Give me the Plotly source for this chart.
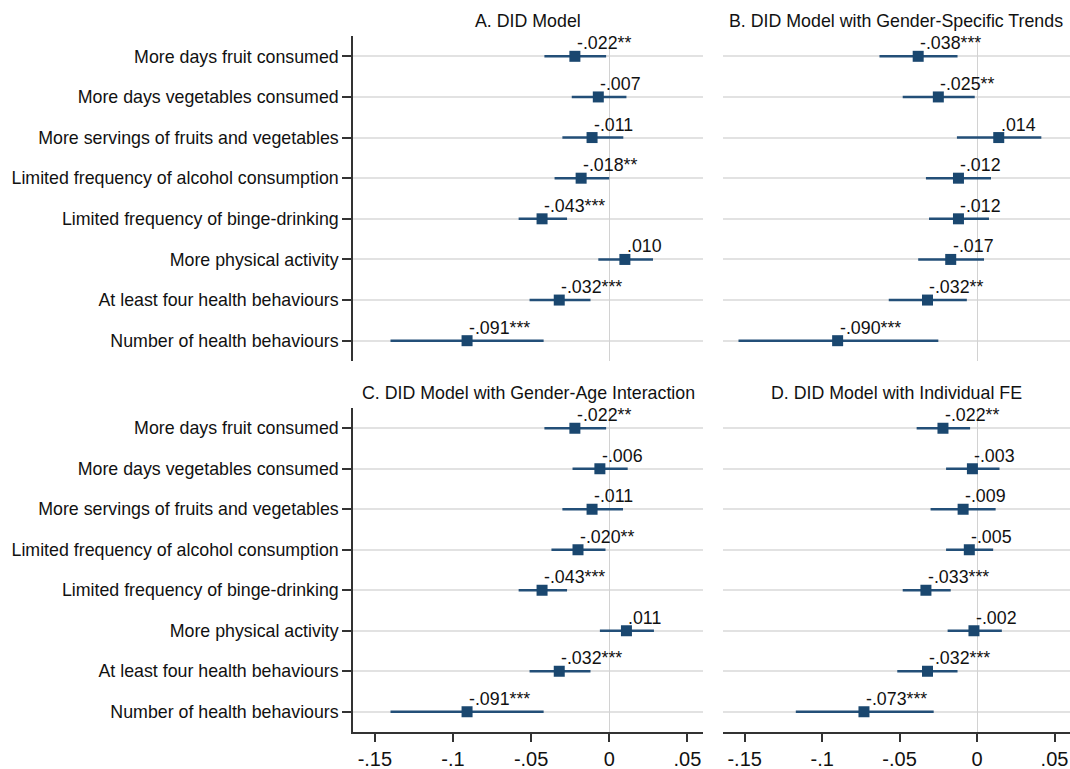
import plotly.graph_objects as go

categories = [
    "More days fruit consumed",
    "More days vegetables consumed",
    "More servings of fruits and vegetables",
    "Limited frequency of alcohol consumption",
    "Limited frequency of binge-drinking",
    "More physical activity",
    "At least four health behaviours",
    "Number of health behaviours",
]

panel_titles = [
    "A. DID Model",
    "B. DID Model with Gender-Specific Trends",
    "C. DID Model with Gender-Age Interaction",
    "D. DID Model with Individual FE",
]

est_A = [-0.022, -0.007, -0.011, -0.018, -0.043, 0.010, -0.032, -0.091]
lo_A = [-0.0415, -0.024, -0.030, -0.035, -0.058, -0.007, -0.051, -0.140]
hi_A = [-0.002, 0.011, 0.009, 0.000, -0.027, 0.028, -0.012, -0.042]
stars_A = ["**", "", "", "**", "***", "", "***", "***"]

est_B = [-0.038, -0.025, 0.014, -0.012, -0.012, -0.017, -0.032, -0.090]
lo_B = [-0.063, -0.048, -0.013, -0.033, -0.031, -0.038, -0.057, -0.154]
hi_B = [-0.0126, -0.0015, 0.0415, 0.009, 0.0077, 0.0045, -0.0066, -0.025]
stars_B = ["***", "**", "", "", "", "", "**", "***"]

est_C = [-0.022, -0.006, -0.011, -0.020, -0.043, 0.011, -0.032, -0.091]
lo_C = [-0.0415, -0.0235, -0.030, -0.037, -0.058, -0.006, -0.051, -0.140]
hi_C = [-0.002, 0.0118, 0.0088, -0.0024, -0.027, 0.0286, -0.012, -0.042]
stars_C = ["**", "", "", "**", "***", "", "***", "***"]

est_D = [-0.022, -0.003, -0.009, -0.005, -0.033, -0.002, -0.032, -0.073]
lo_D = [-0.039, -0.020, -0.030, -0.020, -0.048, -0.019, -0.0515, -0.117]
hi_D = [-0.0045, 0.0145, 0.012, 0.0104, -0.017, 0.016, -0.0126, -0.028]
stars_D = ["**", "", "", "", "***", "", "***", "***"]

x_tickvals = [-0.15, -0.1, -0.05, 0, 0.05]
x_ticktext = ["-.15", "-.1", "-.05", "0", ".05"]

panels = [
    (est_A, lo_A, hi_A, stars_A),
    (est_B, lo_B, hi_B, stars_B),
    (est_C, lo_C, hi_C, stars_C),
    (est_D, lo_D, hi_D, stars_D),
]

W, H = 1070, 769
FONT = "Liberation Sans, Arial, sans-serif"
NAVY = "#1a476f"
LINE = "#234f78"

col_dom = [[353 / W, 703 / W], [723 / W, 1.0]]
row_dom = [[1 - 361 / H, 1 - 36 / H], [1 - 732 / H, 1 - 408 / H]]
title_y = [1 - 21 / H, 1 - 393 / H]


def fmt(v):
    s = f"{v:.3f}"
    return s.replace("0.", ".", 1)


fig = go.Figure()
annotations = []
for i, (est, lo, hi, stars) in enumerate(panels):
    r, c = divmod(i, 2)
    sfx = "" if i == 0 else str(i + 1)
    xa, ya = "x" + sfx, "y" + sfx
    fig.add_trace(go.Scatter(
        x=est, y=categories, xaxis=xa, yaxis=ya, mode="markers",
        marker=dict(symbol="square", size=11, color=NAVY),
        error_x=dict(type="data", symmetric=False,
                     array=[h - e for h, e in zip(hi, est)],
                     arrayminus=[e - l for e, l in zip(est, lo)],
                     width=0, thickness=2.5, color=LINE),
        showlegend=False, hoverinfo="skip",
    ))
    for e, cat, st in zip(est, categories, stars):
        txt = fmt(e) + st
        annotations.append(dict(
            x=e, y=cat, xref=xa, yref=ya, text=txt, showarrow=False,
            xanchor="left", yanchor="bottom", xshift=0, yshift=1,
            font=dict(family=FONT, size=17.8, color="#111111"),
        ))
    annotations.append(dict(
        x=sum(col_dom[c]) / 2, y=title_y[r], xref="paper", yref="paper",
        text=panel_titles[i], showarrow=False, xanchor="center", yanchor="middle",
        font=dict(family=FONT, size=17.8, color="#111111"),
    ))
    fig.layout["xaxis" + sfx] = dict(
        domain=col_dom[c], anchor=ya, range=[-0.164, 0.060],
        showgrid=False, zeroline=True, zerolinecolor="#d2d2d2", zerolinewidth=1,
        tickvals=x_tickvals, ticktext=x_ticktext,
        showticklabels=(r == 1), ticks="outside" if r == 1 else "",
        ticklen=8, tickwidth=1.5, tickcolor="#333333",
        showline=(r == 1), linecolor="#333333", linewidth=1.5,
        tickfont=dict(family=FONT, size=20, color="#111111"),
        fixedrange=True,
    )
    fig.layout["yaxis" + sfx] = dict(
        domain=row_dom[r], anchor=xa, type="category",
        categoryorder="array", categoryarray=categories, range=[7.5, -0.5],
        showgrid=True, gridcolor="#e2e2e2", gridwidth=2, zeroline=False,
        showline=(c == 0), linecolor="#333333", linewidth=1.5,
        ticks="outside" if c == 0 else "", ticklen=9, tickwidth=1.5, tickcolor="#333333",
        showticklabels=(c == 0),
        tickfont=dict(family=FONT, size=17.8, color="#111111"),
        fixedrange=True,
    )

fig.update_layout(
    width=W, height=H, margin=dict(l=0, r=0, t=0, b=0, autoexpand=False),
    paper_bgcolor="white", plot_bgcolor="white",
    annotations=annotations, font=dict(family=FONT),
)

fig.write_html("out.html", config={"displayModeBar": False},
               post_script="document.body.style.margin='0';document.body.style.overflow='hidden';")
